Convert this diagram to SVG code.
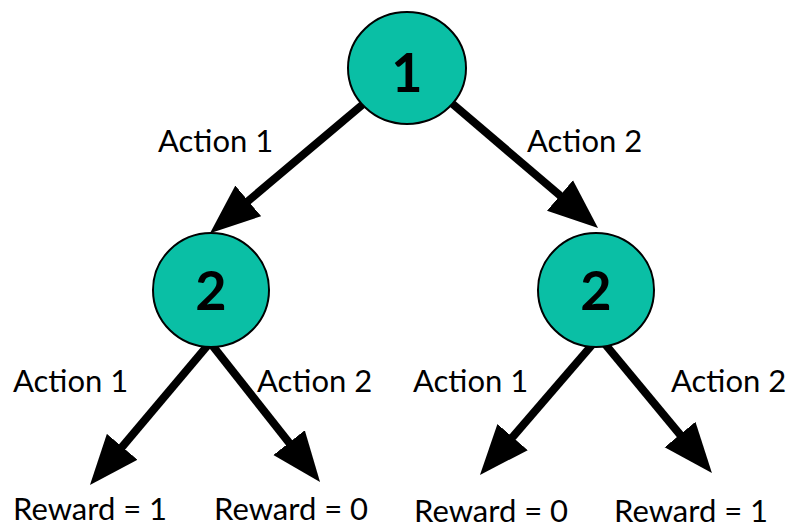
<svg xmlns="http://www.w3.org/2000/svg" width="794" height="528" viewBox="0 0 794 528">
  <defs>
    <marker id="head" markerUnits="userSpaceOnUse" markerWidth="52" markerHeight="42" refX="2" refY="21" orient="auto">
      <path d="M0,1 L50,21 L0,41 Z" fill="#000"/>
    </marker>
    <style>
      .node ellipse { fill: #0abfa5; stroke: #000; stroke-width: 2; }
      .num { font-family: Lato, "Open Sans", sans-serif; font-weight: bold; font-size: 54px; text-anchor: middle; fill: #000; }
      .edge { stroke: #000; stroke-width: 8; fill: none; marker-end: url(#head); }
      .lbl { font-family: Lato, "Open Sans", sans-serif; font-size: 31px; fill: #000; }
    </style>
  </defs>
  <rect width="794" height="528" fill="#fff"/>

  <!-- edges end at the arrowhead base; the marker supplies the head -->
  <g id="connectors">
    <line class="edge" x1="368" y1="100" x2="246.7" y2="202.2"/>
    <line class="edge" x1="448" y1="100" x2="561.5" y2="196.8"/>
    <line class="edge" x1="208" y1="345" x2="120.9" y2="448.3"/>
    <line class="edge" x1="212" y1="345" x2="290.3" y2="444.3"/>
    <line class="edge" x1="598" y1="338" x2="511.3" y2="438.6"/>
    <line class="edge" x1="600" y1="338" x2="681.3" y2="436.1"/>
  </g>

  <g id="root" class="node">
    <ellipse cx="407" cy="68" rx="59" ry="56"/>
    <text class="num" x="407" y="92">1</text>
  </g>
  <g id="left" class="node">
    <ellipse cx="211" cy="290" rx="58" ry="57"/>
    <text class="num" x="211" y="310">2</text>
  </g>
  <g id="right" class="node">
    <ellipse cx="596" cy="290" rx="58" ry="57"/>
    <text class="num" x="596" y="310">2</text>
  </g>

  <g id="labels">
    <text class="lbl" x="158" y="152">Action 1</text>
    <text class="lbl" x="527" y="152">Action 2</text>
    <text class="lbl" x="13" y="392">Action 1</text>
    <text class="lbl" x="257" y="392">Action 2</text>
    <text class="lbl" x="413" y="392">Action 1</text>
    <text class="lbl" x="671" y="392">Action 2</text>
    <text class="lbl" x="13" y="520">Reward = 1</text>
    <text class="lbl" x="214" y="520">Reward = 0</text>
    <text class="lbl" x="414" y="522">Reward = 0</text>
    <text class="lbl" x="614" y="522">Reward = 1</text>
  </g>
</svg>
